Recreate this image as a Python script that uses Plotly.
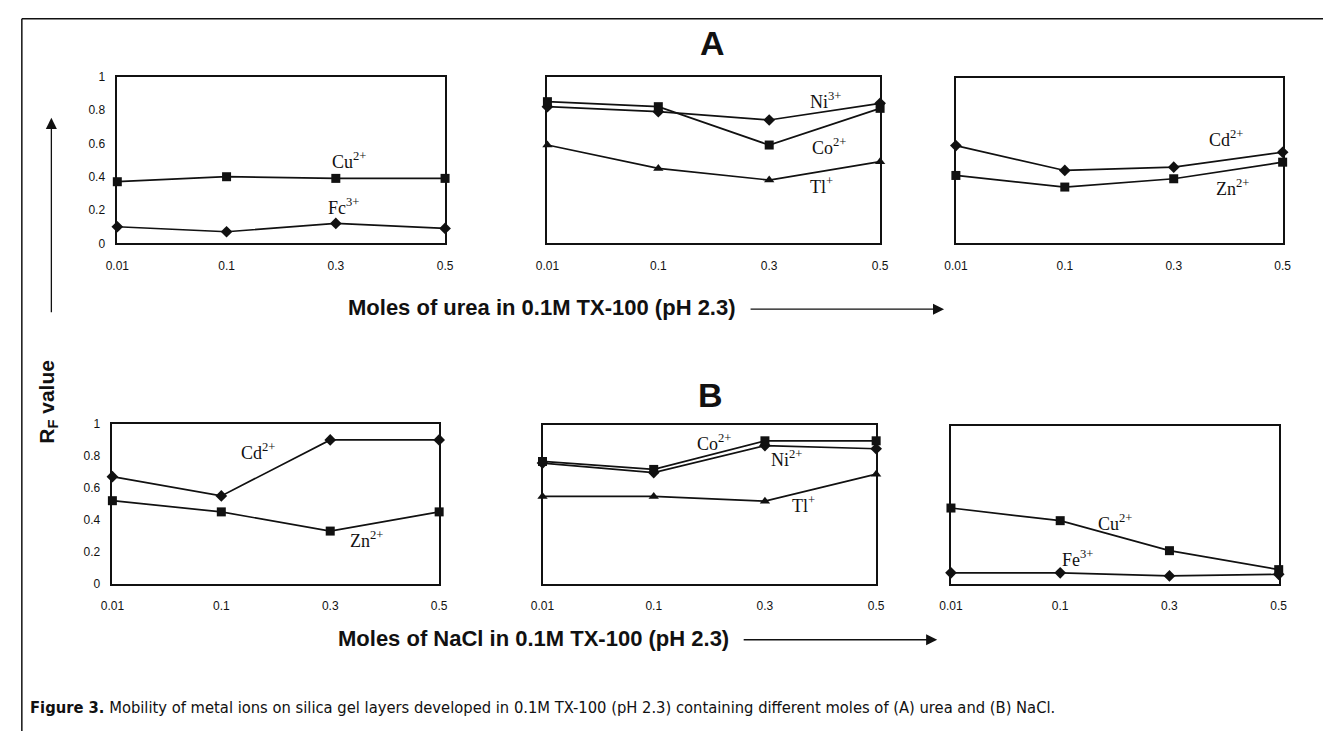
import plotly.graph_objects as go

W, H = 1332, 738

# ---------------- data ----------------
conc = ["0.01", "0.1", "0.3", "0.5"]
y_ticks = [0, 0.2, 0.4, 0.6, 0.8, 1]
y_ticktext = ["0", "0.2", "0.4", "0.6", "0.8", "1"]

# (A) urea
urea_cu = [0.37, 0.40, 0.39, 0.39]
urea_fe = [0.10, 0.07, 0.12, 0.09]
urea_ni = [0.82, 0.79, 0.74, 0.84]
urea_co = [0.85, 0.82, 0.59, 0.81]
urea_tl = [0.59, 0.45, 0.38, 0.49]
urea_cd = [0.59, 0.44, 0.46, 0.55]
urea_zn = [0.41, 0.34, 0.39, 0.49]

# (B) NaCl
nacl_cd = [0.67, 0.55, 0.90, 0.90]
nacl_zn = [0.52, 0.45, 0.33, 0.45]
nacl_co = [0.77, 0.72, 0.90, 0.90]
nacl_ni = [0.76, 0.70, 0.87, 0.85]
nacl_tl = [0.55, 0.55, 0.52, 0.69]
nacl_cu = [0.48, 0.40, 0.21, 0.09]
nacl_fe = [0.07, 0.07, 0.05, 0.06]

# ---------------- layout geometry (pixels) ----------------
panels = {
    1: (107, 440, 71, 241),
    2: (544, 882, 71, 241),
    3: (959, 1291, 72, 241),
    4: (102, 434, 425, 588),
    5: (539, 878, 426, 588),
    6: (954, 1287, 427, 588),
}

fig = go.Figure()

MK = {"sq": dict(symbol="square", size=9),
      "di": dict(symbol="diamond", size=9),
      "tr": dict(symbol="triangle-up", size=9)}


def add(i, y, m):
    fig.add_trace(go.Scatter(
        x=conc, y=y, mode="lines+markers",
        line=dict(color="#111", width=1.7),
        marker=dict(color="#111", **MK[m]),
        xaxis="x" if i == 1 else f"x{i}", yaxis="y" if i == 1 else f"y{i}",
        cliponaxis=False, showlegend=False, hoverinfo="skip"))


add(1, urea_cu, "sq"); add(1, urea_fe, "di")
add(2, urea_ni, "di"); add(2, urea_co, "sq"); add(2, urea_tl, "tr")
add(3, urea_cd, "di"); add(3, urea_zn, "sq")
add(4, nacl_cd, "di"); add(4, nacl_zn, "sq")
add(5, nacl_tl, "tr"); add(5, nacl_ni, "di"); add(5, nacl_co, "sq")
add(6, nacl_cu, "sq"); add(6, nacl_fe, "di")

tickfont = dict(family="Liberation Sans, Arial", size=12, color="#111")
lay = {}
for i, (x0, x1, y0, y1) in panels.items():
    xs = "xaxis" if i == 1 else f"xaxis{i}"
    ys = "yaxis" if i == 1 else f"yaxis{i}"
    yref = "y" if i == 1 else f"y{i}"
    xref = "x" if i == 1 else f"x{i}"
    lay[xs] = dict(domain=[x0 / W, x1 / W], anchor=yref, type="category",
                   range=[0, 3], showline=True, mirror=True, linecolor="#111",
                   linewidth=1.7, showgrid=False, zeroline=False, ticks="",
                   tickfont=tickfont, ticklabelstandoff=10, fixedrange=True)
    lay[ys] = dict(domain=[1 - y1 / H, 1 - y0 / H], anchor=xref, range=[0, 1],
                   showline=True, mirror=True, linecolor="#111", linewidth=1.7,
                   showgrid=False, zeroline=False, ticks="",
                   tickvals=y_ticks, ticktext=y_ticktext,
                   showticklabels=(i in (1, 4)), tickfont=tickfont,
                   ticklabelstandoff=8, fixedrange=True)

ann = []
serif = dict(family="Liberation Serif, Times New Roman", size=18, color="#111")


def lab(i, x, y, txt):
    ann.append(dict(x=x, y=y, xref="x" if i == 1 else f"x{i}",
                    yref="y" if i == 1 else f"y{i}", text=txt,
                    xanchor="center", yanchor="middle",
                    showarrow=False, font=serif))


lab(1, 2.12, 0.50, "Cu<sup>2+</sup>")
lab(1, 2.07, 0.22, "Fc<sup>3+</sup>")
lab(2, 2.51, 0.86, "Ni<sup>3+</sup>")
lab(2, 2.54, 0.58, "Co<sup>2+</sup>")
lab(2, 2.47, 0.35, "Tl<sup>+</sup>")
lab(3, 2.48, 0.63, "Cd<sup>2+</sup>")
lab(3, 2.54, 0.34, "Zn<sup>2+</sup>")
lab(4, 1.34, 0.83, "Cd<sup>2+</sup>")
lab(4, 2.33, 0.28, "Zn<sup>2+</sup>")
lab(5, 1.54, 0.89, "Co<sup>2+</sup>")
lab(5, 2.19, 0.79, "Ni<sup>2+</sup>")
lab(5, 2.35, 0.50, "Tl<sup>+</sup>")
lab(6, 1.50, 0.39, "Cu<sup>2+</sup>")
lab(6, 1.16, 0.16, "Fe<sup>3+</sup>")

sans_b = dict(family="Liberation Sans, Arial", color="#111")


def ptext(px, py, txt, size, xanchor="center", **kw):
    d = dict(x=px / W, y=1 - py / H, xref="paper", yref="paper", text=txt,
             xanchor=xanchor, yanchor="middle",
             showarrow=False, font=dict(size=size, **sans_b))
    d.update(kw)
    ann.append(d)


ptext(712, 37, "<b>A</b>", 34)
ptext(710, 395, "<b>B</b>", 34)
ptext(339, 306, "<b>Moles of urea in 0.1M TX-100 (pH 2.3)</b>", 22, xanchor="left")
ptext(329, 644, "<b>Moles of NaCl in 0.1M TX-100 (pH 2.3)</b>", 22, xanchor="left")
ptext(37, 402, "<b>R<sub>F</sub> value</b>", 21, textangle=-90)


def arrow(x0, y0, x1, y1):
    ann.append(dict(x=x1 / W, y=1 - y1 / H, ax=x0 - x1, ay=y0 - y1,
                    xref="paper", yref="paper", axref="pixel", ayref="pixel",
                    text="", showarrow=True, arrowhead=2, arrowsize=1.7,
                    arrowwidth=1.3, arrowcolor="#111"))


arrow(752, 308, 947, 308)
arrow(745, 645, 940, 645)
arrow(40, 309, 40, 113)

ann.append(dict(x=16 / W, y=1 - 714 / H, xref="paper", yref="paper",
                xanchor="left", yanchor="middle", showarrow=False,
                text="<b>Figure 3.</b> Mobility of metal ions on silica gel layers developed in 0.1M TX-100 (pH 2.3) containing different moles of (A) urea and (B) NaCl.",
                font=dict(family="DejaVu Sans Condensed, Liberation Sans Narrow, Liberation Sans", size=16.4, color="#111")))

shapes = [
    dict(type="line", xref="paper", yref="paper", x0=10 / W, x1=1, y0=1 - 12 / H, y1=1 - 12 / H,
         line=dict(color="#111", width=1.5)),
    dict(type="line", xref="paper", yref="paper", x0=10 / W, x1=10 / W, y0=0, y1=1 - 12 / H,
         line=dict(color="#111", width=1.5)),
]

fig.update_layout(width=W, height=H, margin=dict(l=0, r=0, t=0, b=0),
                  paper_bgcolor="white", plot_bgcolor="white",
                  annotations=ann, shapes=shapes, **lay)

post = ("document.documentElement.style.margin='0';"
        "document.body.style.margin='0';document.body.style.padding='0';"
        "document.body.style.overflow='hidden';"
        "var d=document.getElementById('{plot_id}');"
        "d.style.position='absolute';d.style.left='0px';d.style.top='0px';")

fig.write_html("out.html", config={"displayModeBar": False}, post_script=post)
